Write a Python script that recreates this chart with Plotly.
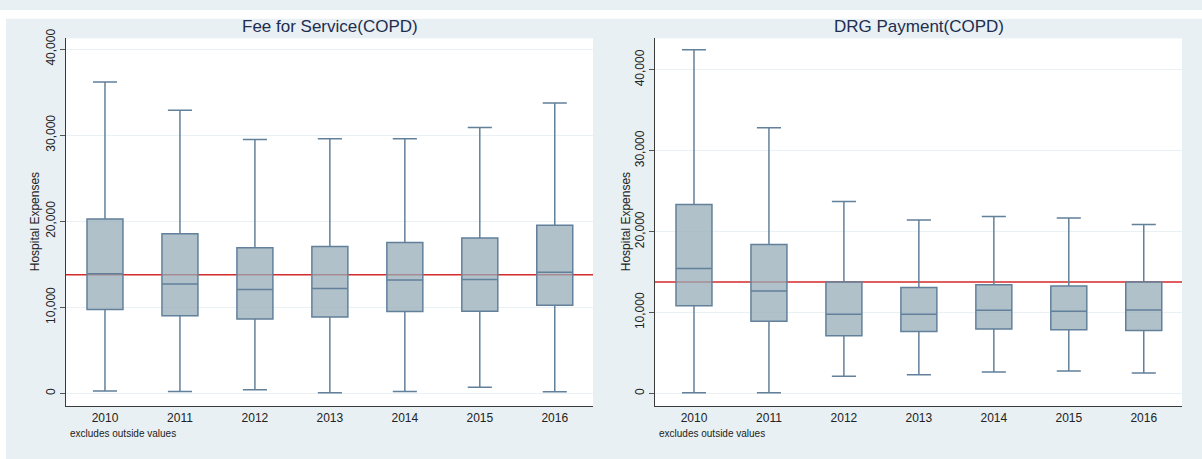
import plotly.graph_objects as go

# Years on the x axis
years = ["2010", "2011", "2012", "2013", "2014", "2015", "2016"]

# Fee for Service (COPD): box statistics per year
ffs_low = [300, 230, 420, 80, 230, 720, 190]
ffs_q1 = [9750, 9030, 8650, 8880, 9520, 9560, 10250]
ffs_median = [13890, 12710, 12070, 12180, 13170, 13250, 14080]
ffs_q3 = [20270, 18560, 16930, 17080, 17530, 18070, 19550]
ffs_high = [36170, 32900, 29490, 29570, 29570, 30890, 33740]

# DRG Payment (COPD): box statistics per year
drg_low = [80, 80, 2130, 2300, 2660, 2780, 2540]
drg_q1 = [10840, 8940, 7130, 7650, 7980, 7860, 7770]
drg_median = [15430, 12650, 9790, 9790, 10270, 10150, 10310]
drg_q3 = [23360, 18410, 13780, 13090, 13450, 13290, 13780]
drg_high = [42460, 32830, 23730, 21430, 21870, 21670, 20870]

# Reference line drawn across both panels
reference_value = 13780

y_ticks = [0, 10000, 20000, 30000, 40000]

W, H = 1202, 459
BG = "#e8f0f3"
FONT = "Liberation Sans, Arial, Helvetica, sans-serif"
BOX_FILL = "rgba(151,172,184,0.75)"
BOX_LINE = "#62809a"


def px_x(p):
    return p / W


def px_y(p):
    return 1 - p / H


fig = go.Figure()

panels = [
    ("x", "y", ffs_low, ffs_q1, ffs_median, ffs_q3, ffs_high),
    ("x2", "y2", drg_low, drg_q1, drg_median, drg_q3, drg_high),
]
for xa, ya, lo, q1, med, q3, hi in panels:
    fig.add_trace(go.Box(
        x=years, q1=q1, median=med, q3=q3,
        lowerfence=lo, upperfence=hi,
        xaxis=xa, yaxis=ya,
        width=0.48, whiskerwidth=0.67,
        fillcolor=BOX_FILL,
        line=dict(color=BOX_LINE, width=1.5),
        boxpoints=False, showlegend=False, hoverinfo="skip",
    ))
    fig.add_shape(type="line", xref=f"{xa} domain", yref=ya,
                  x0=0, x1=1, y0=reference_value, y1=reference_value,
                  line=dict(color="#d42a2a", width=1.6), layer="below")

x_common = dict(
    type="category", showgrid=False, zeroline=False,
    showline=True, linecolor="#3a3a3a", linewidth=1,
    ticks="",
    tickfont=dict(family=FONT, size=12, color="#222222"),
    range=[-0.52, 6.51], fixedrange=True,
)
y_common = dict(
    tickvals=y_ticks, tickformat=",d", tickangle=-90,
    showgrid=True, gridcolor="#eaf1f4", gridwidth=1, zeroline=False,
    showline=True, linecolor="#3a3a3a", linewidth=1,
    ticks="outside", ticklen=5, tickcolor="#555555",
    tickfont=dict(family=FONT, size=12, color="#222222"),
)

plot_top, plot_bottom = 29, 405
ydom = [px_y(plot_bottom), px_y(plot_top)]

fig.update_layout(
    width=W, height=H,
    margin=dict(l=0, r=0, t=0, b=0),
    paper_bgcolor=BG, plot_bgcolor="white",
    xaxis=dict(domain=[px_x(66), px_x(593)], anchor="y", **x_common),
    xaxis2=dict(domain=[px_x(655), px_x(1182)], anchor="y2", **x_common),
    yaxis=dict(domain=ydom, anchor="x", range=[-1475, 41240], **y_common),
    yaxis2=dict(domain=ydom, anchor="x2", range=[-1570, 43880], **y_common),
    font=dict(family=FONT),
)

# White margin strips along the top and left edges of the canvas
fig.add_shape(type="rect", xref="paper", yref="paper", x0=0, x1=1,
              y0=px_y(9), y1=1, fillcolor="white", line_width=0, layer="below")
fig.add_shape(type="rect", xref="paper", yref="paper", x0=0, x1=px_x(6),
              y0=0, y1=1, fillcolor="white", line_width=0, layer="below")

titles = [("Fee for Service(COPD)", 329.5), ("DRG Payment(COPD)", 918.5)]
for text, cx in titles:
    fig.add_annotation(text=text, x=px_x(cx), y=px_y(17), xref="paper", yref="paper",
                       showarrow=False, xanchor="center", yanchor="middle",
                       font=dict(family=FONT, size=17, color="#1e2d4f"))

for cx in (35, 626):
    fig.add_annotation(text="Hospital Expenses", x=px_x(cx), y=px_y(217),
                       xref="paper", yref="paper", showarrow=False, textangle=-90,
                       xanchor="center", yanchor="middle",
                       font=dict(family=FONT, size=12, color="#222222"))

for lx in (68, 657):
    fig.add_annotation(text="excludes outside values", x=px_x(lx), y=px_y(433),
                       xref="paper", yref="paper", showarrow=False,
                       xanchor="left", yanchor="middle",
                       font=dict(family=FONT, size=10, color="#222222"))

fig.write_html("out.html")
